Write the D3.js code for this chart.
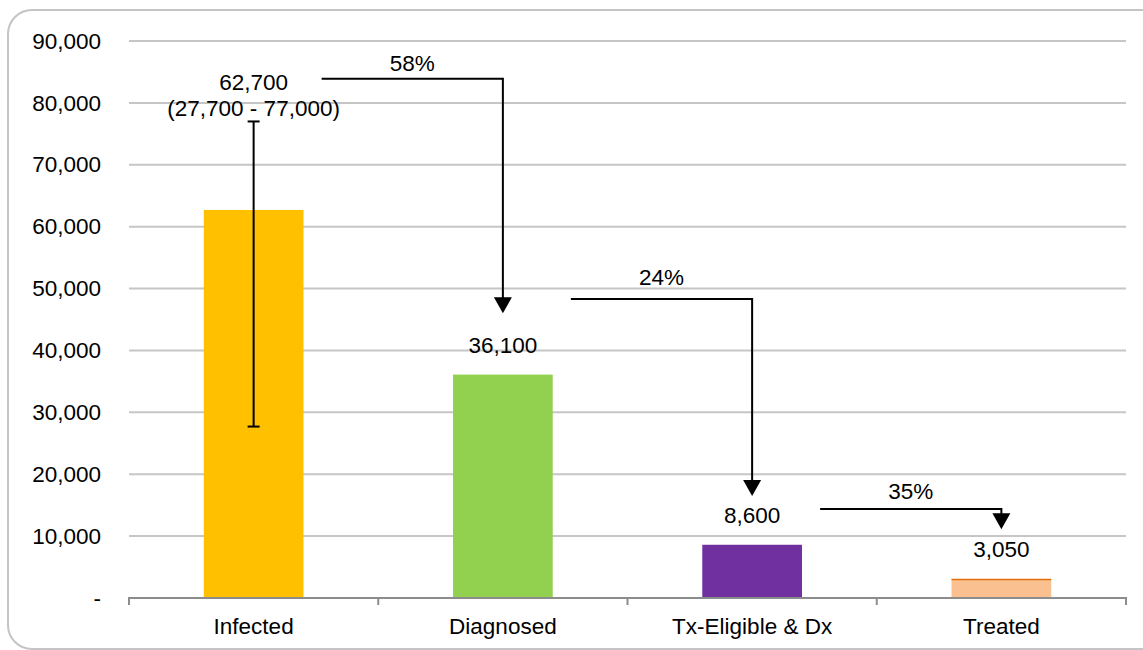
<!DOCTYPE html>
<html>
<head>
<meta charset="utf-8">
<script src="https://cdn.jsdelivr.net/npm/d3@7"></script>
<style>
  html, body { margin: 0; padding: 0; background: #fff; }
  svg { display: block; font-family: "Liberation Sans", Arial, sans-serif; }
</style>
</head>
<body>
<svg id="chart" width="1143" height="650"></svg>
<script>
// Care cascade: people infected through to treated
const categories = ["Infected", "Diagnosed", "Tx-Eligible & Dx", "Treated"];
const values = [62700, 36100, 8600, 3050];
const barColors = ["#FFC000", "#92D050", "#7030A0", "#FAC090"];
const infectedRange = [27700, 77000];
const stepLabels = ["58%", "24%", "35%"];
const yTicks = [0, 10000, 20000, 30000, 40000, 50000, 60000, 70000, 80000, 90000];

// Height (in chart units) of each connector's horizontal run and of its arrow tip
const connectorLevels = [83900, 48300, 14400];
const connectorTips = [46000, 16500, 11100];

const FS = 22.5;
const svg = d3.select("#chart");
const W = 1143, H = 650;
const margin = { left: 129, right: 17, top: 41, bottom: 52 };
const plotW = W - margin.left - margin.right;
const plotBottom = H - margin.bottom;

// Outer frame
svg.append("rect")
  .attr("x", 8).attr("y", 10)
  .attr("width", 1160).attr("height", 639)
  .attr("rx", 24).attr("ry", 24)
  .attr("fill", "#fff")
  .attr("stroke", "#c4c4c4").attr("stroke-width", 2);

const x = d3.scaleBand().domain(categories)
  .range([margin.left, margin.left + plotW])
  .paddingInner(0.6).paddingOuter(0.3);
const band = d3.scaleBand().domain(categories)
  .range([margin.left, margin.left + plotW]);
const y = d3.scaleLinear().domain([0, 90000]).range([plotBottom, margin.top]);

const fmt = d3.format(",");

// Gridlines
svg.append("g").selectAll("line")
  .data(yTicks.filter(d => d > 0))
  .join("line")
  .attr("x1", margin.left).attr("x2", margin.left + plotW)
  .attr("y1", d => y(d)).attr("y2", d => y(d))
  .attr("stroke", "#c6c6c6").attr("stroke-width", 2);

// Y axis labels
const yAxis = d3.axisLeft(y).tickValues(yTicks)
  .tickFormat(d => d === 0 ? "-" : fmt(d))
  .tickSize(0).tickPadding(28);
const yg = svg.append("g").attr("transform", `translate(${margin.left},0)`).call(yAxis);
yg.select(".domain").remove();
yg.selectAll("text").attr("font-size", FS).attr("fill", "#000")
  .attr("font-family", "Liberation Sans, Arial, sans-serif");

// Bars
svg.append("g").selectAll("rect")
  .data(categories)
  .join("rect")
  .attr("x", d => x(d))
  .attr("width", x.bandwidth())
  .attr("y", (d, i) => y(values[i]))
  .attr("height", (d, i) => plotBottom - y(values[i]))
  .attr("fill", (d, i) => barColors[i]);

// Treated bar has an orange outline on top
svg.append("line")
  .attr("x1", x(categories[3])).attr("x2", x(categories[3]) + x.bandwidth())
  .attr("y1", y(values[3]) + 0.5).attr("y2", y(values[3]) + 0.5)
  .attr("stroke", "#E46C0A").attr("stroke-width", 1.5);

// X axis
const xAxis = d3.axisBottom(band).tickSize(0).tickPadding(20);
const xg = svg.append("g").attr("transform", `translate(0,${plotBottom})`).call(xAxis);
xg.select(".domain").attr("stroke", "#8c8c8c").attr("stroke-width", 2)
  .attr("d", `M${margin.left},0H${margin.left + plotW}`);
xg.selectAll("text").attr("font-size", FS).attr("fill", "#000")
  .attr("font-family", "Liberation Sans, Arial, sans-serif");
// Category separators
const seps = categories.map(c => band(c)).concat([margin.left + plotW]);
xg.append("g").selectAll("line").data(seps).join("line")
  .attr("x1", d => d).attr("x2", d => d)
  .attr("y1", -1).attr("y2", 7)
  .attr("stroke", "#8c8c8c").attr("stroke-width", 2);

// Error bar on Infected
const cx0 = x(categories[0]) + x.bandwidth() / 2;
const eb = svg.append("g").attr("stroke", "#000").attr("stroke-width", 2);
eb.append("line").attr("x1", cx0).attr("x2", cx0)
  .attr("y1", y(infectedRange[0])).attr("y2", y(infectedRange[1]));
infectedRange.forEach(v => {
  eb.append("line").attr("x1", cx0 - 6).attr("x2", cx0 + 6)
    .attr("y1", y(v)).attr("y2", y(v));
});

// Value labels
const labels = svg.append("g").attr("font-size", FS).attr("fill", "#000")
  .attr("text-anchor", "middle");
labels.append("text").attr("x", cx0).attr("y", y(infectedRange[1]) - 31)
  .text(fmt(values[0]));
labels.append("text").attr("x", cx0).attr("y", y(infectedRange[1]) - 5)
  .text(`(${fmt(infectedRange[0])} - ${fmt(infectedRange[1])})`);
categories.slice(1).forEach((c, j) => {
  const i = j + 1;
  labels.append("text")
    .attr("x", x(c) + x.bandwidth() / 2)
    .attr("y", y(values[i]) - 22)
    .text(fmt(values[i]));
});

// Step connectors with arrowheads
const labelGap = [8, 14, 10];
const conn = svg.append("g");
stepLabels.forEach((lab, i) => {
  const fromX = x(categories[i]) + x.bandwidth() / 2 + 68;
  const toX = x(categories[i + 1]) + x.bandwidth() / 2;
  const ly = y(connectorLevels[i]);
  const tipY = y(connectorTips[i]);
  const headH = 16, headW = 9;
  conn.append("path")
    .attr("d", `M${fromX},${ly}H${toX}V${tipY - headH + 1}`)
    .attr("fill", "none").attr("stroke", "#000").attr("stroke-width", 2);
  conn.append("path")
    .attr("d", `M${toX - headW},${tipY - headH}L${toX + headW},${tipY - headH}L${toX},${tipY}Z`)
    .attr("fill", "#000");
  conn.append("text")
    .attr("x", (fromX + toX) / 2).attr("y", ly - labelGap[i])
    .attr("text-anchor", "middle").attr("font-size", FS).attr("fill", "#000")
    .text(lab);
});
</script>
</body>
</html>
